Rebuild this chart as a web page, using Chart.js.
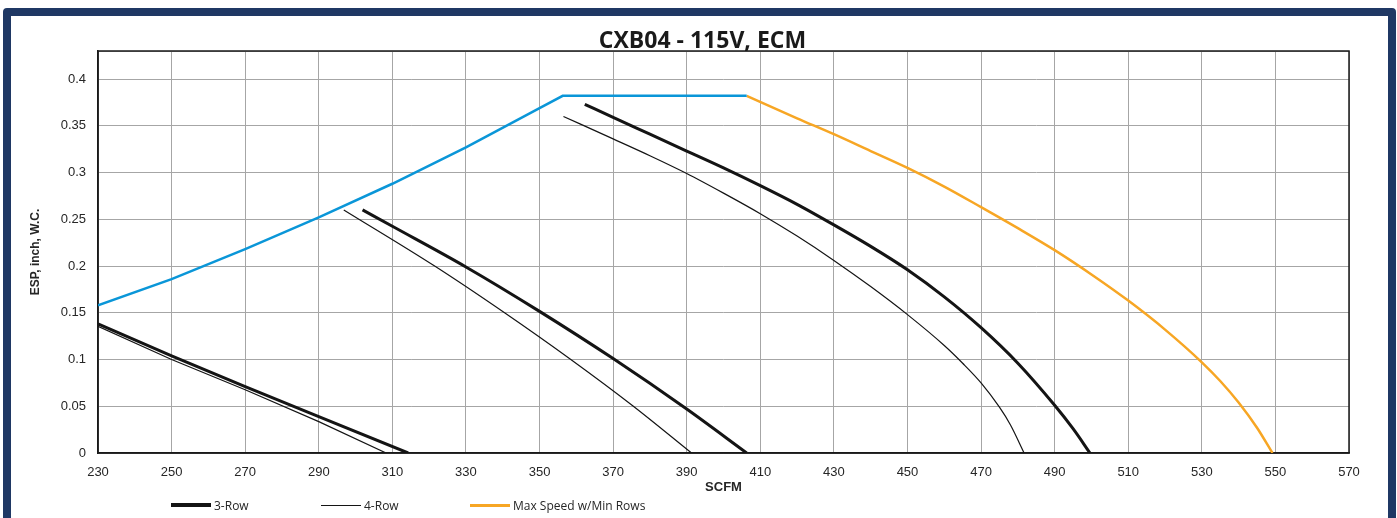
<!DOCTYPE html>
<html>
<head>
<meta charset="utf-8">
<script src="https://cdn.jsdelivr.net/npm/chart.js@4.4.1/dist/chart.umd.min.js"></script>
<style>
  html, body { margin: 0; padding: 0; background: #fff; overflow: hidden; }
  #wrap { position: relative; width: 1397px; height: 518px; overflow: hidden; }
  #frame {
    position: absolute; left: 3px; top: 8px; width: 1377px; height: 600px;
    border: 8px solid #1f3864; border-radius: 4px; pointer-events: none;
  }
  #legend { position: absolute; left: 0; top: 496px; width: 1397px; height: 18px;
    font: 12px "Open Sans", sans-serif; color: #262626; }
  .item { position: absolute; top: 0; height: 18px; display: flex; align-items: center; white-space: nowrap; }
  .swatch { display: inline-block; width: 40px; margin-right: 3px; }
</style>
</head>
<body>
<div id="wrap">
  <canvas id="chart" width="1397" height="518"></canvas>
  <div id="frame"></div>
  <div id="legend"></div>
</div>
<script>
// ---- data ----
const xTickMin = 230, xTickMax = 570, xStep = 20;
const yTickMax = 0.43, yStep = 0.05;

// 3-Row curves (three speeds)
const row3LowCfm = [230, 250, 270, 290, 314.3];
const row3LowEsp = [0.138, 0.104, 0.071, 0.039, 0];
const row3MidCfm = [301.9, 310, 330, 350, 370, 390, 406.3];
const row3MidEsp = [0.26, 0.2425, 0.199, 0.1515, 0.101, 0.047, 0];
const row3HighCfm = [362.3, 370, 380, 390, 400, 410, 420, 430, 440, 450, 460, 470, 480, 490, 495, 499.6];
const row3HighEsp = [0.373, 0.359, 0.341, 0.323, 0.305, 0.286, 0.266, 0.244, 0.221, 0.196, 0.167, 0.134, 0.096, 0.051, 0.026, 0];

// 4-Row curves
const row4LowCfm = [230, 250, 270, 290, 308.3];
const row4LowEsp = [0.1355, 0.1, 0.0676, 0.0336, 0];
const row4MidCfm = [296.8, 321.5, 340.5, 358.5, 375.5, 391.3];
const row4MidEsp = [0.26, 0.2, 0.15, 0.1, 0.05, 0];
const row4HighCfm = [356.5, 370, 380, 390, 400, 410, 420, 430, 440, 450, 460, 465, 470, 475, 478, 481.7];
const row4HighEsp = [0.36, 0.336, 0.318, 0.299, 0.278, 0.256, 0.232, 0.206, 0.178, 0.148, 0.115, 0.096, 0.075, 0.049, 0.030, 0];

// system limit (blue) and max speed w/ min rows (orange)
const limitCfm = [230, 250, 270, 290, 310, 330, 350, 356.3, 406.3];
const limitEsp = [0.158, 0.186, 0.218, 0.252, 0.288, 0.327, 0.369, 0.382, 0.382];
const maxSpeedCfm = [406.3, 420, 430, 440, 450, 460, 470, 480, 490, 500, 510, 520, 530, 535, 540, 545, 549.2];
const maxSpeedEsp = [0.382, 0.358, 0.341, 0.323, 0.305, 0.285, 0.263, 0.2405, 0.217, 0.191, 0.163, 0.132, 0.097, 0.077, 0.054, 0.027, 0];

const legendLabels = ['3-Row', '4-Row', 'Max Speed w/Min Rows'];

const pts = (xs, ys) => xs.map((x, i) => ({ x: x, y: ys[i] }));

const BLACK = '#141414', BLUE = '#0a96d8', ORANGE = '#f7a624';

function series(label, xs, ys, color, width, smooth) {
  return {
    label: label,
    data: pts(xs, ys),
    showLine: true,
    borderColor: color,
    backgroundColor: color,
    borderWidth: width,
    pointRadius: 0,
    cubicInterpolationMode: smooth ? 'monotone' : 'default',
    tension: 0,
    fill: false
  };
}

const datasets = [
  series('Limit', limitCfm, limitEsp, BLUE, 2.5, false),
  series(legendLabels[2], maxSpeedCfm, maxSpeedEsp, ORANGE, 2.5, true),
  series(legendLabels[1], row4LowCfm, row4LowEsp, BLACK, 1.2, false),
  series(legendLabels[1], row4MidCfm, row4MidEsp, BLACK, 1.2, true),
  series(legendLabels[1], row4HighCfm, row4HighEsp, BLACK, 1.2, true),
  series(legendLabels[0], row3LowCfm, row3LowEsp, BLACK, 3, false),
  series(legendLabels[0], row3MidCfm, row3MidEsp, BLACK, 3, true),
  series(legendLabels[0], row3HighCfm, row3HighEsp, BLACK, 3, true)
];

// black box round the plot area
const plotBox = {
  id: 'plotBox',
  beforeDatasetsDraw(chart) {
    const a = chart.chartArea, ctx = chart.ctx;
    ctx.save();
    ctx.strokeStyle = '#1a1a1a';
    ctx.lineWidth = 1.5;
    ctx.strokeRect(a.left, a.top, a.right - a.left, a.bottom - a.top);
    ctx.restore();
  }
};

// the title in the reference sits a bit right of the canvas centre
const titleShift = {
  id: 'titleShift',
  afterLayout(chart) {
    if (chart.titleBlock) chart.titleBlock.left += 56;
  }
};

const tickFont = { family: '"Liberation Sans", Arial, sans-serif', size: 13 };

new Chart(document.getElementById('chart'), {
  type: 'scatter',
  data: { datasets: datasets },
  plugins: [plotBox, titleShift],
  options: {
    responsive: false,
    animation: false,
    devicePixelRatio: 1,
    layout: { padding: { left: 0, right: 48, top: 0, bottom: 0 } },
    plugins: {
      legend: { display: false },
      tooltip: { enabled: false },
      title: {
        display: true,
        text: 'CXB04 - 115V, ECM',
        color: '#1a1a1a',
        font: { family: '"Open Sans", sans-serif', size: 23, weight: 'bold', lineHeight: 20 / 23 },
        padding: { top: 31, bottom: 0 }
      }
    },
    scales: {
      x: {
        type: 'linear',
        min: xTickMin,
        max: xTickMax,
        afterFit: (s) => { s.height = 65; },
        ticks: { stepSize: xStep, padding: 12, color: '#262626', font: tickFont, maxRotation: 0 },
        grid: { color: '#a6a6a6', lineWidth: 1, drawTicks: false },
        border: { color: '#1a1a1a', width: 1.5 },
        title: {
          display: true, text: 'SCFM', color: '#262626',
          font: { family: '"Liberation Sans", Arial, sans-serif', size: 13, weight: 'bold' },
          padding: { top: 0, bottom: 23 }
        }
      },
      y: {
        min: 0,
        max: yTickMax,
        afterFit: (s) => { s.width = 98; },
        ticks: {
          stepSize: yStep, padding: 12, color: '#262626', font: tickFont,
          callback: (v) => {
            const k = v / yStep;
            return Math.abs(k - Math.round(k)) < 1e-6 ? String(Math.round(v * 100) / 100) : '';
          }
        },
        grid: { color: '#a6a6a6', lineWidth: 1, drawTicks: false },
        border: { color: '#1a1a1a', width: 1.5 },
        title: {
          display: true, text: 'ESP, inch, W.C.', color: '#262626',
          font: { family: '"Liberation Sans", Arial, sans-serif', size: 12, weight: 'bold' },
          padding: { top: 28, bottom: 0 }
        }
      }
    }
  }
});

// legend, laid out like the reference (three fixed slots)
const legendStyles = [
  { color: BLACK, width: 4, left: 171 },
  { color: BLACK, width: 1.2, left: 321 },
  { color: ORANGE, width: 3, left: 470 }
];
const legendEl = document.getElementById('legend');
legendLabels.forEach((txt, i) => {
  const st = legendStyles[i];
  const item = document.createElement('div');
  item.className = 'item';
  item.style.left = st.left + 'px';
  const sw = document.createElement('span');
  sw.className = 'swatch';
  sw.style.borderTop = st.width + 'px solid ' + st.color;
  const lab = document.createElement('span');
  lab.textContent = txt;
  item.appendChild(sw);
  item.appendChild(lab);
  legendEl.appendChild(item);
});
</script>
</body>
</html>
